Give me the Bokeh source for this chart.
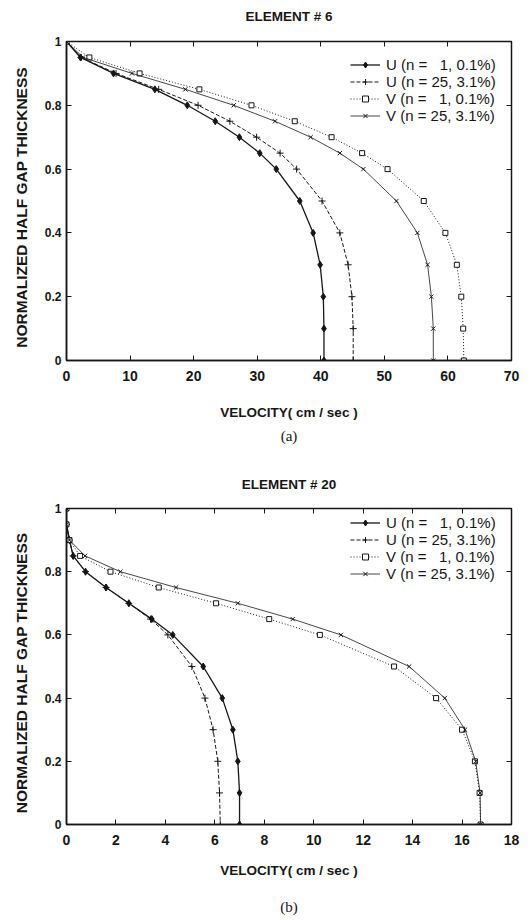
from bokeh.plotting import figure
from bokeh.models import (LinearAxis, FixedTicker, CustomJSTickFormatter, Range1d,
                          Legend, LegendItem, Title)
from bokeh.layouts import column
from bokeh.embed import file_html
from bokeh.resources import INLINE

# ---------------- data ----------------
y_levels = [1.0, 0.95, 0.9, 0.85, 0.8, 0.75, 0.7, 0.65, 0.6, 0.5, 0.4, 0.3, 0.2, 0.1, 0.0]

# Element #6
e6_u1 = [0, 2.2, 7.4, 13.9, 19.0, 23.4, 27.2, 30.4, 33.0, 36.7, 38.8, 39.9, 40.4, 40.5, 40.5]
e6_u25 = [0, 2.3, 7.8, 14.5, 20.7, 25.7, 29.9, 33.6, 36.2, 40.2, 43.0, 44.3, 44.9, 45.1, 45.1]
e6_v1 = [0, 3.6, 11.5, 20.9, 29.1, 35.9, 41.7, 46.5, 50.5, 56.2, 59.6, 61.4, 62.1, 62.4, 62.5]
e6_v25 = [0, 2.6, 10.3, 18.7, 26.3, 32.8, 38.4, 43.0, 46.7, 51.9, 55.2, 56.8, 57.4, 57.7, 57.7]

# Element #20
e20_u1 = [0, 0, 0.12, 0.27, 0.77, 1.6, 2.52, 3.45, 4.3, 5.53, 6.3, 6.73, 6.93, 7.0, 7.0]
e20_u25 = [0, 0, 0.12, 0.27, 0.77, 1.6, 2.52, 3.4, 4.1, 5.07, 5.6, 5.93, 6.12, 6.19, 6.22]
e20_v1 = [0, 0, 0.12, 0.55, 1.78, 3.73, 6.05, 8.2, 10.25, 13.25, 14.95, 16.0, 16.52, 16.71, 16.75]
e20_v25 = [0, 0, 0.12, 0.75, 2.18, 4.43, 6.93, 9.15, 11.1, 13.86, 15.3, 16.12, 16.55, 16.73, 16.75]

series_labels = ["U (n = \u00a0\u00a01, 0.1%)", "U (n = 25, 3.1%)",
                 "V (n = \u00a0\u00a01, 0.1%)", "V (n = 25, 3.1%)"]

y_ticks = [0, 0.2, 0.4, 0.6, 0.8, 1.0]
e6_x_ticks = [0, 10, 20, 30, 40, 50, 60, 70]
e20_x_ticks = [0, 2, 4, 6, 8, 10, 12, 14, 16, 18]

INK = "#161616"
SANS = "Liberation Sans"
ROW_H = 15
LEG_PAD = 3


def make_panel(title, caption, xs_list, x_ticks, border_top, frame_h, border_bottom,
               x_label_standoff, title_standoff, caption_standoff, legend_drop):
    p = figure(frame_width=445, frame_height=frame_h,
               min_border_left=66, min_border_right=12,
               min_border_top=border_top, min_border_bottom=border_bottom,
               x_range=Range1d(x_ticks[0], x_ticks[-1]), y_range=Range1d(0, 1),
               output_backend="svg", toolbar_location=None,
               background_fill_color="white", border_fill_color="white")
    p.grid.visible = False
    p.outline_line_color = INK
    p.outline_line_width = 1.5

    p.title.text = title
    p.title.align = "center"
    p.title.vertical_align = "top"
    p.title.text_font = SANS
    p.title.text_font_size = "13.5px"
    p.title.text_font_style = "bold"
    p.title.text_color = INK
    p.title.standoff = title_standoff

    xa = p.xaxis[0]
    xa.ticker = FixedTicker(ticks=x_ticks)
    xa.formatter = CustomJSTickFormatter(code="return String(Math.round(tick))")
    xa.axis_label = "VELOCITY( cm / sec )"
    ya = p.yaxis[0]
    ya.ticker = FixedTicker(ticks=y_ticks)
    ya.formatter = CustomJSTickFormatter(code="return String(Math.round(tick*10)/10)")
    ya.axis_label = "NORMALIZED  HALF  GAP  THICKNESS"

    for ax in (xa, ya):
        ax.axis_line_color = INK
        ax.axis_line_width = 1.5
        ax.major_tick_in = 5
        ax.major_tick_out = 0
        ax.minor_tick_line_color = None
        ax.major_tick_line_color = INK
        ax.major_label_text_font = SANS
        ax.major_label_text_font_style = "bold"
        ax.major_label_text_color = INK
        ax.axis_label_text_font = SANS
        ax.axis_label_text_font_style = "bold"
        ax.axis_label_text_color = INK
    xa.major_label_text_font_size = "14px"
    xa.major_label_standoff = 10
    xa.axis_label_standoff = x_label_standoff
    xa.axis_label_text_font_size = "13.5px"
    ya.major_label_text_font_size = "12px"
    ya.major_label_standoff = 5
    ya.axis_label_standoff = 12
    ya.axis_label_text_font_size = "15.5px"

    # mirrored ticks on top and right
    for loc, ticks in (("above", x_ticks), ("right", y_ticks)):
        ax = LinearAxis(ticker=FixedTicker(ticks=ticks),
                        formatter=CustomJSTickFormatter(code="return ''"),
                        axis_line_color=None, major_tick_in=5, major_tick_out=0,
                        major_tick_line_color=INK, minor_tick_line_color=None,
                        major_label_standoff=0, major_label_text_font_size="1px")
        p.add_layout(ax, loc)
    # small empty spacer between the top ticks and the title
    p.add_layout(Title(text=" ", text_font_size="1px", standoff=5), "above")

    styles = [
        dict(line_dash="solid", line_width=1.3, marker="diamond", size=7, fill=INK),
        dict(line_dash="4 2", line_width=1.0, marker="cross", size=7, fill=INK),
        dict(line_dash="1 2", line_width=1.0, marker="square", size=5, fill="white"),
        dict(line_dash="solid", line_width=0.8, marker="x", size=6, fill=INK),
    ]
    items = []
    for xs, st, lab in zip(xs_list, styles, series_labels):
        r1 = p.line(xs, y_levels, line_color=INK, line_width=st["line_width"],
                    line_dash=st["line_dash"])
        r2 = p.scatter(xs, y_levels, marker=st["marker"], size=st["size"],
                       line_color=INK, fill_color=st["fill"], line_width=1.0)
        items.append(LegendItem(label=lab, renderers=[r1, r2]))

    leg_h = len(items) * ROW_H + 2 * LEG_PAD
    legend = Legend(items=items, location=(284, frame_h - legend_drop - leg_h),
                    label_text_font=SANS, label_text_font_size="15px",
                    label_text_line_height=0.8,
                    label_text_color=INK, label_height=ROW_H, glyph_height=ROW_H,
                    glyph_width=30, spacing=0, padding=LEG_PAD, margin=0,
                    border_line_color=None, background_fill_alpha=0.0,
                    label_standoff=6)
    p.add_layout(legend)

    cap = Title(text=caption, align="center", text_font="Liberation Serif",
                text_font_size="15px", text_font_style="normal", text_color=INK,
                standoff=caption_standoff)
    p.add_layout(cap, "below")
    return p


p1 = make_panel("ELEMENT # 6", "(a)", [e6_u1, e6_u25, e6_v1, e6_v25], e6_x_ticks,
                border_top=41, frame_h=319, border_bottom=108,
                x_label_standoff=21, title_standoff=16, caption_standoff=6,
                legend_drop=17)
p2 = make_panel("ELEMENT # 20", "(b)", [e20_u1, e20_u25, e20_v1, e20_v25], e20_x_ticks,
                border_top=40, frame_h=316, border_bottom=96,
                x_label_standoff=15, title_standoff=14, caption_standoff=33,
                legend_drop=8)

layout = column(p1, p2, spacing=0)
open("out.html", "w").write(file_html(layout, INLINE))
